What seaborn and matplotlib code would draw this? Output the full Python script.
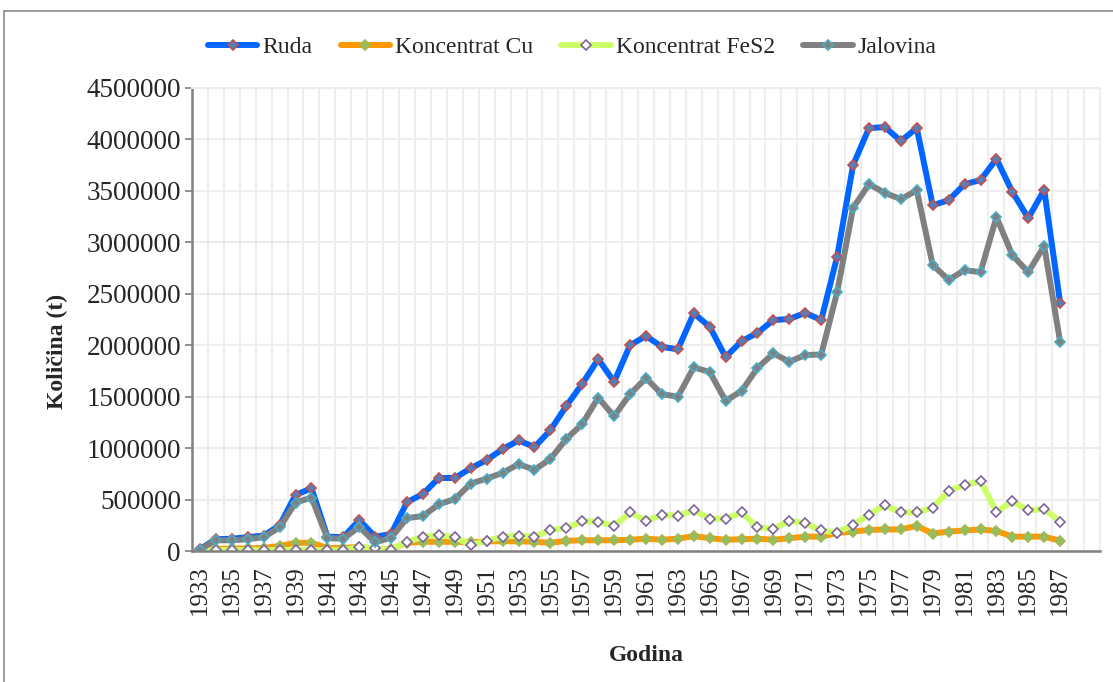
import numpy as np
import pandas as pd
import seaborn as sns
import matplotlib.pyplot as plt
from matplotlib.patches import Rectangle

# data (t)
years = list(range(1933, 1988))
ruda = [20000, 115000, 120000, 135000, 150000, 250000, 545000, 610000, 140000, 135000,
        300000, 140000, 165000, 475000, 555000, 710000, 710000, 805000, 885000, 990000,
        1075000, 1010000, 1175000, 1410000, 1625000, 1865000, 1645000, 2000000, 2090000, 1985000,
        1960000, 2310000, 2180000, 1885000, 2040000, 2120000, 2245000, 2255000, 2315000, 2245000,
        2860000, 3750000, 4110000, 4120000, 3985000, 4110000, 3360000, 3410000, 3565000, 3605000,
        3810000, 3490000, 3235000, 3510000, 2410000]
koncentrat_cu = [5000, 20000, 25000, 25000, 30000, 50000, 80000, 80000, 30000, 30000,
                 40000, 20000, 20000, 80000, 90000, 90000, 90000, 85000, 95000, 95000,
                 95000, 90000, 80000, 100000, 105000, 105000, 105000, 110000, 120000, 110000,
                 120000, 145000, 125000, 110000, 115000, 120000, 110000, 125000, 140000, 140000,
                 175000, 190000, 205000, 210000, 210000, 245000, 170000, 190000, 200000, 210000,
                 195000, 140000, 140000, 140000, 100000]
koncentrat_fes2 = [8000, 8000, 8000, 8000, 8000, 8000, 8000, 10000, 8000, 8000,
                   40000, 25000, 15000, 90000, 140000, 155000, 135000, 60000, 100000, 140000,
                   150000, 140000, 205000, 225000, 290000, 285000, 245000, 375000, 295000, 350000,
                   345000, 395000, 315000, 315000, 375000, 230000, 215000, 295000, 270000, 200000,
                   180000, 255000, 355000, 445000, 375000, 375000, 420000, 585000, 640000, 680000,
                   380000, 485000, 395000, 410000, 285000]
jalovina = [15000, 105000, 105000, 115000, 135000, 230000, 470000, 520000, 125000, 120000,
            235000, 85000, 130000, 320000, 340000, 455000, 505000, 655000, 705000, 760000,
            845000, 790000, 895000, 1090000, 1235000, 1490000, 1310000, 1525000, 1680000, 1525000,
            1500000, 1785000, 1740000, 1460000, 1555000, 1780000, 1920000, 1840000, 1905000, 1910000,
            2515000, 3335000, 3565000, 3480000, 3420000, 3505000, 2780000, 2635000, 2730000, 2710000,
            3245000, 2875000, 2710000, 2965000, 2030000]

df = pd.DataFrame({'Godina': years, 'Ruda': ruda, 'Koncentrat Cu': koncentrat_cu,
                   'Koncentrat FeS2': koncentrat_fes2, 'Jalovina': jalovina})

# line colour, marker face, marker edge
styles = {
    'Ruda': ('#0066ff', '#4f81bd', '#c0504d'),
    'Koncentrat Cu': ('#ff9900', '#9bbb59', '#9bbb59'),
    'Koncentrat FeS2': ('#ccff66', 'white', '#8064a2'),
    'Jalovina': ('#808080', '#808080', '#4bacc6'),
}

sns.set_style('white')
plt.rcParams['font.family'] = ['Liberation Serif', 'DejaVu Serif']

fig = plt.figure(figsize=(11.13, 6.82), dpi=100)
ax = fig.add_axes([0.1725, 0.192, 0.8158, 0.679])

for name, (lc, fc, ec) in styles.items():
    sns.lineplot(data=df, x='Godina', y=name, ax=ax, color=lc, linewidth=4.3,
                 marker='D', markersize=4.6, markerfacecolor=fc, markeredgecolor=ec,
                 markeredgewidth=1.2, label=name)

# axes / grid
ax.set_xlim(1932.5, 1989.5)
ax.set_ylim(0, 4500000)
ax.set_yticks(np.arange(0, 4500001, 500000))
ax.set_yticklabels([str(v) for v in range(0, 4500001, 500000)], fontsize=19.5)
ax.set_xticks(years[::2])
ax.set_xticklabels([str(y) for y in years[::2]], rotation=90, fontsize=18)
ax.set_xticks(np.arange(1932.5, 1990, 1), minor=True)
ax.tick_params(axis='x', which='major', length=0, pad=10)
ax.tick_params(axis='x', which='minor', length=6, color='#808080', width=1.2)
ax.tick_params(axis='y', length=5, color='#808080', width=1.2, direction='out', left=True, pad=3)
ax.grid(True, axis='y', color='#eeeeee', linewidth=1.5)
ax.grid(True, axis='x', which='minor', color='#eeeeee', linewidth=1.5)
ax.set_axisbelow(True)
for s in ['top', 'right']:
    ax.spines[s].set_color('#eeeeee')
    ax.spines[s].set_linewidth(1.5)
for s in ['left', 'bottom']:
    ax.spines[s].set_color('#808080')
    ax.spines[s].set_linewidth(1.8)

ax.set_xlabel('Godina', fontsize=17, fontweight='bold', labelpad=22)
ax.set_ylabel('Količina (t)', fontsize=17, fontweight='bold', labelpad=14)
ax.yaxis.set_label_coords(-0.137, 0.43)

handles, labels = ax.get_legend_handles_labels()
ax.get_legend().remove()
fig.legend(handles, labels, loc='center', bbox_to_anchor=(0.514, 0.931), ncol=4,
           frameon=False, fontsize=17, handlelength=2.1, handletextpad=0.2, columnspacing=1.2)

# chart border
fig.patches.append(Rectangle((0.004, -0.01), 1.2, 0.994, transform=fig.transFigure,
                             fill=False, edgecolor='#8c8c8c', linewidth=1.2))

fig.savefig('out.png', dpi=100)
